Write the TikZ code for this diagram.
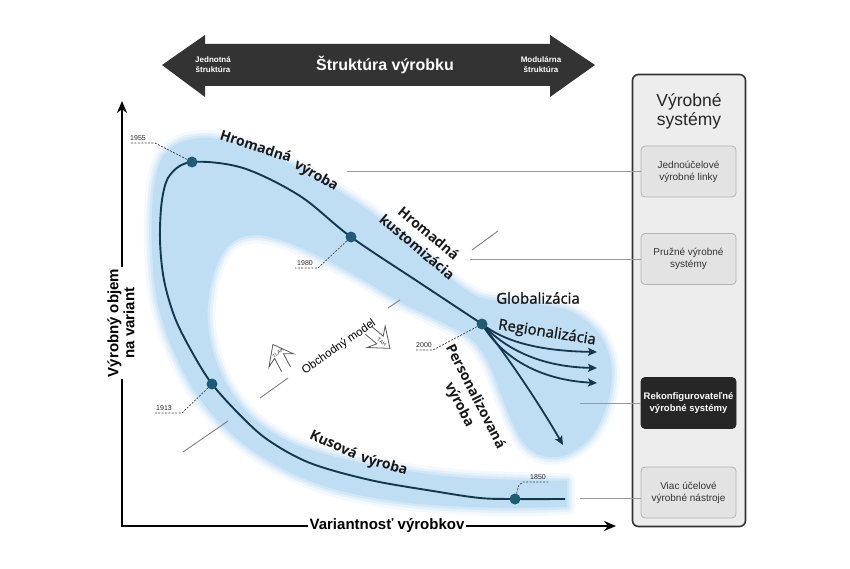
\documentclass[tikz,border=0pt]{standalone}
\usepackage{fontspec}
\setmainfont{Liberation Sans}
\newfontfamily\osans{Open Sans}
\newfontfamily\osanssb[FakeBold=1.2]{Open Sans}
\usetikzlibrary{arrows.meta}
\definecolor{bandc}{RGB}{192,222,243}
\definecolor{linec}{RGB}{20,55,80}
\definecolor{dotc}{RGB}{30,92,118}
\definecolor{darkbar}{RGB}{51,51,51}
\newcommand\myfs[2]{\fontsize{#1}{#2}\selectfont}
\begin{document}
\begin{tikzpicture}[x=1pt,y=-1pt,
 ydot/.style={circle,fill=dotc,minimum size=11pt,inner sep=0pt},
 mline/.style={draw=linec,line width=1.9pt},
 barr/.style={draw=linec,line width=1.8pt,-{Stealth[length=9pt,width=8pt,inset=2pt]}},
 leader/.style={draw=black!75,line width=0.7pt,dash pattern=on 2pt off 1.4pt},
 yr/.style={font=\myfs{7}{8},text=black!85,inner sep=0.5pt},
 clab/.style={font=\osans\bfseries\myfs{14}{18},text=black!90,inner sep=0pt,align=center},
 rlab/.style={font=\osanssb\myfs{15}{18},text=black!90,inner sep=0pt},
 divl/.style={draw=black!50,line width=0.9pt},
 conn/.style={draw=black!40,line width=1pt},
 tarr/.style={draw=black!65,line width=0.8pt,line join=miter},
 tinyt/.style={font=\myfs{5}{6},text=black!80,inner sep=0pt},
 axis/.style={draw=black,line width=2.2pt,line join=miter},
 axlab/.style={font=\bfseries\myfs{15}{16},fill=white,inner sep=2pt,align=center},
 bartxt/.style={font=\bfseries\myfs{8}{10},text=white,align=center,inner sep=0pt},
 panel/.style={draw=black!80,fill=black!7,line width=1.6pt,rounded corners=6pt,minimum width=113pt,minimum height=452pt,inner sep=0pt},
 sbox/.style={draw=black!30,fill=black!11,line width=0.8pt,rounded corners=4pt,minimum width=95pt,minimum height=51pt,align=center,font=\myfs{10}{12},text=black!80,inner sep=0pt},
 dbox/.style={sbox,fill=black!85,draw=black!85,text=white,font=\bfseries\myfs{9.5}{12}}
]
\useasboundingbox (0,0) rectangle (850,569);

% ---------- band ----------
\def\bandpath{plot[smooth,tension=0.55] coordinates {(567,507) (500,508) (433,505) (380,499) (330,488) (285,470) (245,445) (210,412) (185,375) (167,335) (156,295) (152,250) (152,210) (155,180) (163,156) (181,142) (208,138) (240,144) (277,158) (312,175) (345,195) (372,213) (400,235) (430,260) (455,282) (482,298) (525,303) (570,311) (600,335) (612,370) (606,408) (590,438) (566,455) (543,456) (525,445) (512,422) (500,392) (488,362) (470,338) (437,320) (400,302) (370,284) (340,267) (297,246) (265,236) (243,237) (227,247) (216,267) (209,295) (208,325) (215,358) (230,390) (255,420) (292,443) (340,458) (400,470) (470,478) (567,481)} -- cycle}
\draw[bandc!18,line width=16pt,line join=round] \bandpath;
\draw[bandc!42,line width=10pt,line join=round] \bandpath;
\draw[bandc!70,line width=5pt,line join=round] \bandpath;
\fill[bandc] \bandpath;

% ---------- top double arrow ----------
\fill[darkbar] (162,65) -- (205,35) -- (205,44) -- (550,44) -- (550,35) -- (595,65) -- (550,97) -- (550,86) -- (205,86) -- (205,97) -- cycle;
\node[bartxt] (bl) at (213,65) {Jednotná\\štruktúra};
\node[bartxt] (br) at (541,65) {Modulárna\\štruktúra};
\node[font=\bfseries\myfs{16}{19},text=white,inner sep=0pt] (bt) at (385,65) {Štruktúra výrobku};

% ---------- dividing line segments ----------
\draw[divl] (183,452) -- (228,421);
\draw[divl] (260,398) -- (288,378);
\draw[divl] (388,308) -- (400,300);
\draw[divl] (472,250) -- (498,231);

% ---------- push / pull arrows ----------
\begin{scope}[shift={(279,356)},rotate=118]
\draw[tarr] (-15,-5) -- (0,-5) -- (-5,-14) -- (13,0) -- (-5,14) -- (0,5) -- (-15,5);
\end{scope}
\node[tinyt,rotate=37] (tlak) at (278,353) {TLAK};
\begin{scope}[shift={(380,340)},rotate=-40]
\draw[tarr] (-15,-5) -- (0,-5) -- (-5,-14) -- (13,0) -- (-5,14) -- (0,5) -- (-15,5);
\end{scope}
\node[tinyt,rotate=-35] (tah) at (382,342) {ŤAH};
\node[font=\myfs{11.5}{13},rotate=35,inner sep=0pt] (obm) at (339,347) {Obchodný model};

% ---------- main line ----------
\draw[mline] plot[smooth,tension=0.55] coordinates {(565,499) (515,499) (480,498) (433,491) (370,480) (310,463) (268,440) (240,415) (212,384) (192,352) (175,318) (164,280) (160,240) (162,200) (170,175) (192,162) (243,168) (300,196) (351,237) (420,283) (482,324)};

\coordinate (d2000) at (482,324);
\coordinate (e1) at (597,352);
\coordinate (e2) at (597,368);
\coordinate (e3) at (597,383);
\coordinate (e4) at (563,445);
\draw[barr] (d2000) .. controls (505,342) and (540,351) .. (e1);
\draw[barr] (d2000) .. controls (508,352) and (545,367) .. (e2);
\draw[barr] (d2000) .. controls (502,358) and (540,380) .. (e3);
\draw[barr] (d2000) .. controls (510,360) and (540,405) .. (e4);

% ---------- dots ----------
\node[ydot] (n1955) at (192,162) {};
\node[ydot] (n1980) at (351,237) {};
\node[ydot] (n2000) at (482,324) {};
\node[ydot] (n1913) at (212,384) {};
\node[ydot] (n1850) at (515,499) {};

% ---------- year leaders ----------
\node[yr] (t1955) at (138,138) {1955};
\draw[leader] (n1955) -- (155,143) -- (130,143);
\node[yr] (t1980) at (305,263) {1980};
\draw[leader] (n1980) -- (318,268) -- (295,268);
\node[yr] (t2000) at (424,345) {2000};
\draw[leader] (n2000) -- (433,350) -- (415,350);
\node[yr] (t1913) at (164,408) {1913};
\draw[leader] (n1913) -- (182,413) -- (155,413);
\node[yr] (t1850) at (538,477) {1850};
\draw[leader] (n1850) -- (519,485) -- (523,482) -- (548,482);

% ---------- curve labels ----------
\node[clab,rotate=-18] (l1) at (256,146) {Hromadná};
\node[clab,rotate=-30] (l2) at (316,176) {výroba};
\node[clab,rotate=-40] (l3) at (423,240) {Hromadná\\kustomizácia};
\node[rlab] (l4) at (538,298) {Globalizácia};
\node[rlab,rotate=-9] (l5) at (547,333) {Regionalizácia};
\node[clab,rotate=-63] (l6) at (467,401) {Personalizovaná\\výroba};
\node[clab,rotate=-25] (l7) at (334,444) {Kusová};
\node[clab,rotate=-16] (l8) at (384,465) {výroba};

% ---------- axes ----------
\coordinate (O) at (122,526);
\coordinate (Ytip) at (122,101);
\coordinate (Xtip) at (616,526);
\draw[axis,{Stealth[length=12pt,width=10pt]}-{Stealth[length=12pt,width=10pt]}] (Ytip) -- (O) -- (Xtip);
\node[axlab] (xl) at (387,526) {Variantnosť výrobkov};
\node[axlab,rotate=90] (yl) at (121,323) {Výrobný objem\\na variant};

% ---------- right panel ----------
\node[panel] (panel) at (689,300.5) {};
\node[font=\myfs{17.5}{19},align=center,text=black!85,inner sep=0pt] (ptitle) at (689,111) {Výrobné\\systémy};
\node[sbox] (b1) at (688.5,171.5) {Jednoúčelové\\výrobné linky};
\node[sbox] (b2) at (688.5,259) {Pružné výrobné\\systémy};
\node[dbox] (b3) at (688.5,403) {Rekonfigurovateľné\\výrobné systémy};
\node[sbox] (b4) at (688.5,492.5) {Viac účelové\\výrobné nástroje};

\coordinate (c1) at (347,172);
\coordinate (c2) at (470,259);
\coordinate (c3) at (580,403);
\coordinate (c4) at (580,498);
\draw[conn] (c1) -- (c1 -| b1.west);
\draw[conn] (c2) -- (c2 -| b2.west);
\draw[conn] (c3) -- (c3 -| b3.west);
\draw[conn] (c4) -- (c4 -| b4.west);
\end{tikzpicture}
\end{document}
